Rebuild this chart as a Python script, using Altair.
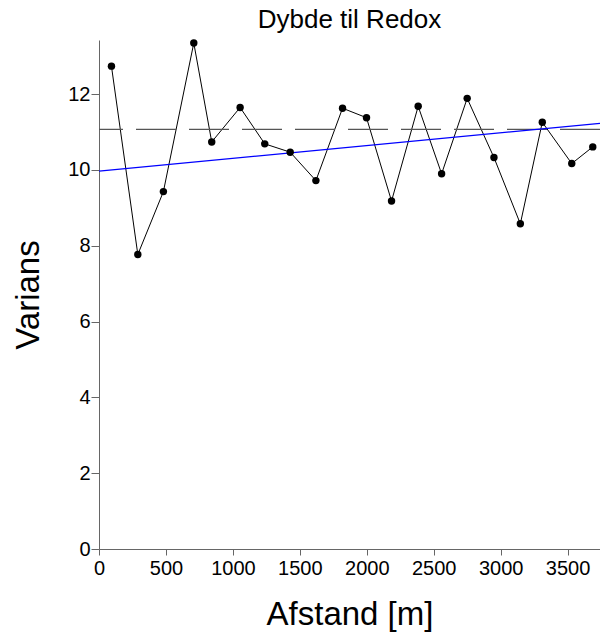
import altair as alt
import pandas as pd

# Data
afstand = [93, 290, 481, 708, 842, 1054, 1238, 1428, 1620, 1819,
           1998, 2185, 2384, 2559, 2750, 2950, 3147, 3311, 3531, 3688]
varians = [12.74, 7.77, 9.43, 13.35, 10.74, 11.65, 10.69, 10.47, 9.72, 11.63,
           11.38, 9.18, 11.68, 9.90, 11.89, 10.33, 8.58, 11.26, 10.17, 10.61]
trend_x = [0, 3742]
trend_y = [9.97, 11.23]
sill = [11.07]
x_ticks = [0, 500, 1000, 1500, 2000, 2500, 3000, 3500]
y_ticks = [0, 2, 4, 6, 8, 10, 12]

df = pd.DataFrame({"x": afstand, "y": varians})
trend = pd.DataFrame({"x": trend_x, "y": trend_y})
sill_df = pd.DataFrame({"y": sill})

FONT = "Liberation Sans"
xscale = alt.Scale(domain=[0, 3742], nice=False, zero=False)
yscale = alt.Scale(domain=[0, 13.43], nice=False, zero=False)

xaxis = alt.Axis(values=x_ticks, format="d", title="Afstand [m]", grid=False,
                 tickSize=6, labelPadding=3, titlePadding=20, labelFlush=False)
yaxis = alt.Axis(values=y_ticks, format="d", title="Varians", grid=False,
                 tickSize=8, labelPadding=1, titlePadding=22)

xenc = alt.X("x:Q", scale=xscale, axis=xaxis)
yenc = alt.Y("y:Q", scale=yscale, axis=yaxis)

line = alt.Chart(df).mark_line(color="black", strokeWidth=1).encode(x=xenc, y=yenc)
pts = alt.Chart(df).mark_circle(color="black", size=55, opacity=1).encode(x=xenc, y=yenc)
trend_line = alt.Chart(trend).mark_line(color="blue", strokeWidth=1.2, clip=True).encode(x=xenc, y=yenc)
sill_rule = alt.Chart(sill_df).mark_rule(color="#555", strokeWidth=1.3,
                                         strokeDash=[40, 13]).encode(y=yenc)

chart = alt.layer(line, sill_rule, trend_line, pts).properties(
    width=501, height=509,
    padding={"left": 99, "top": 40, "right": 0, "bottom": 90},
    autosize="none",
    title=alt.TitleParams("Dybde til Redox", fontSize=26, fontWeight="normal",
                          font=FONT, anchor="middle", offset=6, color="black"),
).configure_axis(
    labelFont=FONT, titleFont=FONT, labelFontSize=20, titleFontSize=33,
    titleFontWeight="normal", labelColor="black", titleColor="black",
    domainColor="#666", tickColor="#666",
).configure_view(stroke=None)

chart.save("out.html", embed_options={"renderer": "svg", "actions": False})
